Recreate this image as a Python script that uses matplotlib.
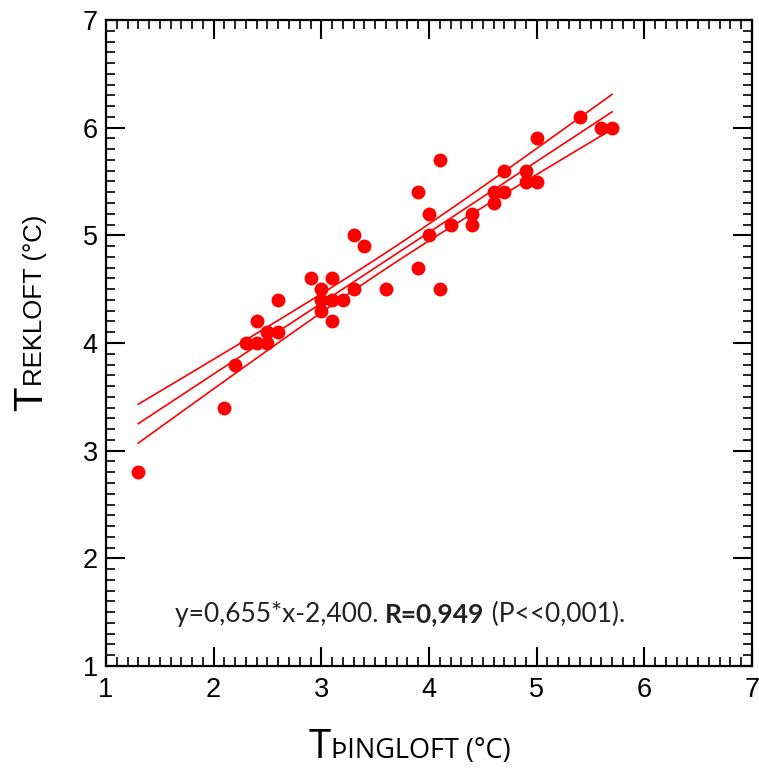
import numpy as np
import matplotlib
matplotlib.use("Agg")
import matplotlib.pyplot as plt
from matplotlib.ticker import MultipleLocator

x_thing = [1.3, 2.1, 2.2, 2.3, 2.4, 2.4, 2.5, 2.5, 2.6, 2.6,
           2.9, 3.0, 3.0, 3.0, 3.1, 3.1, 3.1, 3.2, 3.3, 3.3,
           3.4, 3.6, 3.9, 3.9, 4.0, 4.0, 4.1, 4.1, 4.2, 4.4,
           4.4, 4.6, 4.6, 4.7, 4.7, 4.9, 4.9, 5.0, 5.0, 5.4,
           5.6, 5.7]
y_trek = [2.8, 3.4, 3.8, 4.0, 4.0, 4.2, 4.1, 4.0, 4.1, 4.4,
          4.6, 4.5, 4.4, 4.3, 4.6, 4.4, 4.2, 4.4, 5.0, 4.5,
          4.9, 4.5, 5.4, 4.7, 5.2, 5.0, 5.7, 4.5, 5.1, 5.2,
          5.1, 5.4, 5.3, 5.6, 5.4, 5.6, 5.5, 5.9, 5.5, 6.1,
          6.0, 6.0]
ax_lim = (1, 7)
t_crit = 2.021  # 95%, df=40

eq_text = "y=0,655*x-2,400. "
r_text = "R=0,949"
p_text = " (P<<0,001)."

RED = "#ff0000"
W, H = 759, 768


def fit_band(x, y, n_pts=100):
    x = np.asarray(x, float)
    y = np.asarray(y, float)
    b, a = np.polyfit(x, y, 1)
    res = y - (a + b * x)
    s = np.sqrt(np.sum(res ** 2) / (len(x) - 2))
    sxx = np.sum((x - x.mean()) ** 2)
    xs = np.linspace(x.min(), x.max(), n_pts)
    ys = a + b * xs
    d = t_crit * s * np.sqrt(1.0 / len(x) + (xs - x.mean()) ** 2 / sxx)
    return xs, ys, ys - d, ys + d


def split_label(fig, big, rest, px, py, rot, big_size, small_size, family):
    # big first letter, rest in smaller caps on the same baseline
    t = fig.text(px / W, py / H, big, fontsize=big_size, rotation=rot,
        rotation_mode="anchor", ha="left", va="baseline", family=family
        )
    fig.canvas.draw()
    bb = t.get_window_extent()
    if rot == 0:
        nx, ny = bb.x1, py
    else:
        nx, ny = px, bb.y1
    fig.text(nx / W, ny / H, rest, fontsize=small_size, rotation=rot,
        rotation_mode="anchor", ha="left", va="baseline", family=family
        )


def stat_line(fig, cx, py, size):
    parts = [
        (eq_text, "normal"),
        (r_text, "bold"),
        (p_text, "normal"),
        ]
    arts = []
    for s, wt in parts:
        arts.append(fig.text(0, py / H, s, fontsize=size, weight=wt,
            family="Lato", color="#222222", ha="left", va="baseline"))
    fig.canvas.draw()
    widths = [a.get_window_extent().width for a in arts]
    x0 = cx - sum(widths) / 2
    for a, w in zip(arts, widths):
        a.set_x(x0 / W)
        x0 += w


def main():
    fig = plt.figure(figsize=(W / 100, H / 100), dpi=100)
    ax = fig.add_axes([106 / W, 102 / H, 646 / W, 646 / H])

    xs, ys, lo, hi = fit_band(x_thing, y_trek)
    for yy in (hi, ys, lo):
        ax.plot(xs, yy, color=RED, linewidth=1.2, zorder=2)
    ax.scatter(x_thing, y_trek, s=100, color=RED, linewidths=0, zorder=3)

    ax.set_xlim(ax_lim)
    ax.set_ylim(ax_lim)
    ax.xaxis.set_major_locator(MultipleLocator(1))
    ax.yaxis.set_major_locator(MultipleLocator(1))
    ax.xaxis.set_minor_locator(MultipleLocator(0.1))
    ax.yaxis.set_minor_locator(MultipleLocator(0.1))
    ax.tick_params(which="both", direction="in", top=True, right=True,
        color="black")
    ax.tick_params(which="major", length=13.5, width=1.5,
        labelsize=19.5, pad=8)
    ax.tick_params(axis="y", which="major", pad=6)
    ax.tick_params(which="minor", length=6.5, width=1.2)
    for lab in ax.get_xticklabels() + ax.get_yticklabels():
        lab.set_family("Liberation Sans")
    for sp in ax.spines.values():
        sp.set_linewidth(1.6)

    split_label(fig, "T", "ÞINGLOFT (°C)", 309, 10, 0, 29, 19.5, "Open Sans")
    split_label(fig, "T", "REKLOFT (°C)", 42, 357, 90, 29, 18.5,
        "Liberation Sans")
    stat_line(fig, 400, 146, 19)

    fig.savefig("out.png", dpi=100)


main()
